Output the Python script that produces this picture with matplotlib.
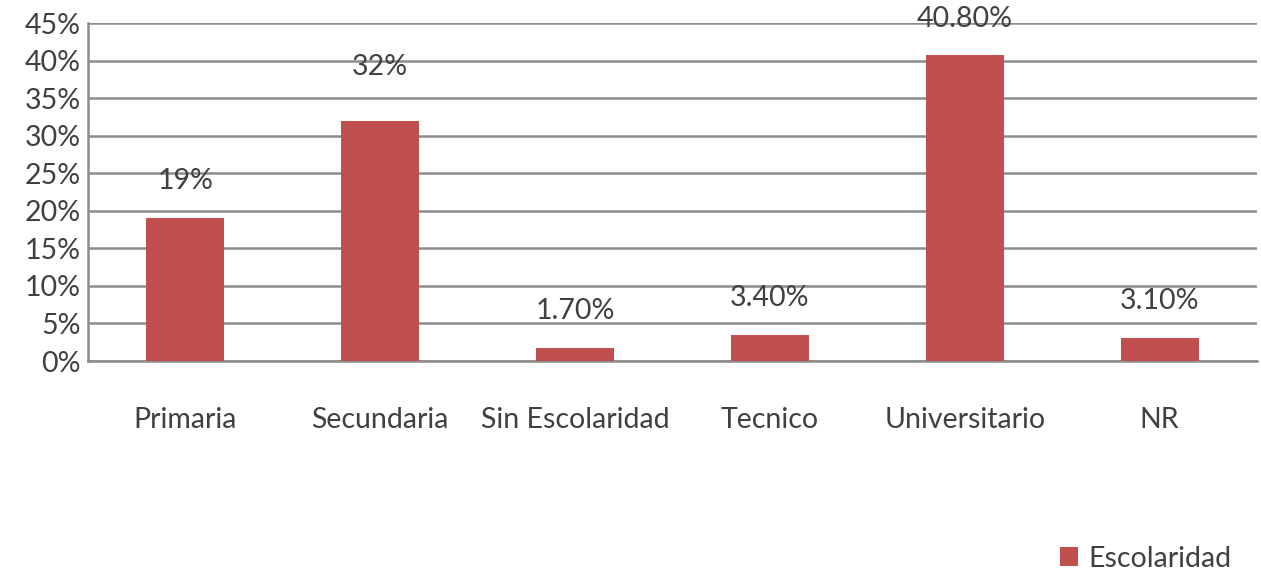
import matplotlib
matplotlib.use("Agg")
import matplotlib.pyplot as plt
from matplotlib.patches import Patch

categories = ["Primaria", "Secundaria", "Sin Escolaridad", "Tecnico", "Universitario", "NR"]
values = [19, 32, 1.7, 3.4, 40.8, 3.1]
labels = ["19%", "32%", "1.70%", "3.40%", "40.80%", "3.10%"]
yticks = [0, 5, 10, 15, 20, 25, 30, 35, 40, 45]
series_name = "Escolaridad"

plt.rcParams['font.family'] = ['Lato', 'DejaVu Sans']
txt = "#404040"
bar_color = "#C0504D"
grid_color = "#8C8C8C"
fs = 20.5

fig = plt.figure(figsize=(12.61, 5.71), dpi=100)
ax = fig.add_axes([88/1261, 1-361/571, (1257-88)/1261, (361-23)/571])

x = list(range(len(categories)))
ax.bar(x, values, width=0.4, color=bar_color, zorder=3)
ax.set_xlim(-0.5, len(categories)-0.5)
ax.set_ylim(0, 45)
ax.set_yticks(yticks)
ax.set_yticklabels([f"{t}%" for t in yticks], fontsize=fs, color=txt)
ax.set_xticks(x)
ax.set_xticklabels(categories, fontsize=fs, color=txt)
ax.tick_params(axis='x', length=0, pad=33)
ax.tick_params(axis='y', length=0, pad=5)
ax.yaxis.grid(True, color=grid_color, linewidth=1.8, zorder=0)
for s in ["top", "right"]:
    ax.spines[s].set_visible(False)
for s in ["left", "bottom"]:
    ax.spines[s].set_color(grid_color)
    ax.spines[s].set_linewidth(1.8)

label_offsets = [37, 54, 37, 37, 36, 37]
for xi, v, lab, off in zip(x, values, labels, label_offsets):
    ax.annotate(lab, (xi, v), xytext=(0, off), textcoords="offset pixels",
                ha="center", va="center", fontsize=fs, color=txt, annotation_clip=False)

handle = Patch(facecolor=bar_color, edgecolor="none")
fig.legend([handle], [series_name], loc="lower right", bbox_to_anchor=(1257/1261, -0.046),
           frameon=False, fontsize=fs, labelcolor=txt, handlelength=0.65, handleheight=0.65,
           handletextpad=0.35)

fig.savefig("out.png", dpi=100, facecolor="white")
